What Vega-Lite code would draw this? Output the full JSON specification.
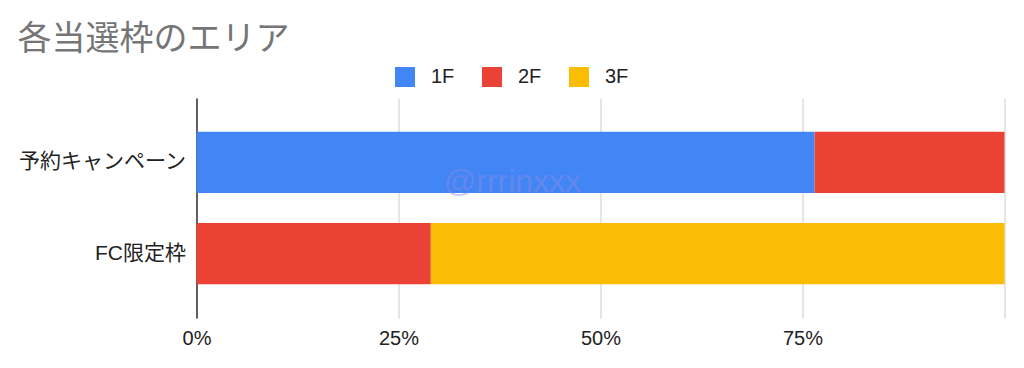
{
  "$schema": "https://vega.github.io/schema/vega-lite/v6.json",
  "autosize": {"type": "none"},
  "width": 808,
  "height": 220,
  "padding": {"left": 196.5, "top": 98, "right": 19.5, "bottom": 50},
  "background": "#ffffff",
  "title": {
    "text": "各当選枠のエリア",
    "anchor": "start",
    "frame": "bounds",
    "font": "Noto Sans CJK JP",
    "fontSize": 34,
    "fontWeight": "normal",
    "color": "#757575",
    "dy": -6
  },
  "config": {
    "view": {"stroke": null},
    "font": "Liberation Sans, Noto Sans CJK JP",
    "text": {"font": "Liberation Sans, Noto Sans CJK JP"}
  },
  "datasets": {
    "shares": [
      {"枠": "予約キャンペーン", "エリア": "1F", "割合": 76.5},
      {"枠": "予約キャンペーン", "エリア": "2F", "割合": 23.5},
      {"枠": "FC限定枠", "エリア": "2F", "割合": 29},
      {"枠": "FC限定枠", "エリア": "3F", "割合": 71}
    ],
    "watermark": [{"label": "@rrrinxxx"}]
  },
  "layer": [
    {
      "data": {"name": "shares"},
      "mark": {"type": "bar"},
      "encoding": {
        "y": {
          "field": "枠",
          "type": "nominal",
          "scale": {"domain": ["予約キャンペーン", "FC限定枠"], "paddingInner": 0.33, "paddingOuter": 0.37},
          "axis": {
            "title": null,
            "ticks": false,
            "tickSize": 0,
            "labelPadding": 11,
            "labelFontSize": 21,
            "labelColor": "#222222",
            "labelFont": "Liberation Sans, Noto Sans CJK JP",
            "domain": true,
            "domainColor": "#333333",
            "domainWidth": 1.5,
            "grid": false
          }
        },
        "x": {
          "field": "割合",
          "type": "quantitative",
          "stack": "normalize",
          "scale": {"domain": [0, 1], "nice": false},
          "axis": {
            "title": null,
            "values": [0, 0.25, 0.5, 0.75, 1],
            "format": "%",
            "labelExpr": "datum.value < 1 ? datum.label : ''",
            "labelFlush": false,
            "ticks": false,
            "tickSize": 0,
            "domain": false,
            "grid": true,
            "gridColor": "#cccccc",
            "gridWidth": 1,
            "labelPadding": 10,
            "labelFontSize": 20,
            "labelColor": "#222222",
            "labelFont": "Liberation Sans"
          }
        },
        "color": {
          "field": "エリア",
          "type": "nominal",
          "scale": {"domain": ["1F", "2F", "3F"], "range": ["#4285f4", "#ea4335", "#fbbc04"]},
          "legend": {
            "title": null,
            "orient": "none",
            "direction": "horizontal",
            "legendX": 198.5,
            "legendY": -31,
            "symbolType": "square",
            "symbolSize": 400,
            "symbolStrokeWidth": 0,
            "symbolOpacity": 1,
            "labelFontSize": 20,
            "labelFont": "Liberation Sans",
            "labelColor": "#222222",
            "labelOffset": 16,
            "columnPadding": 27
          }
        },
        "order": {"field": "エリア", "sort": "ascending"}
      }
    },
    {
      "data": {"name": "watermark"},
      "mark": {
        "type": "text",
        "font": "Liberation Sans",
        "fontSize": 32,
        "color": "#8c8ce6",
        "opacity": 0.45,
        "baseline": "alphabetic",
        "align": "center",
        "dy": 30
      },
      "encoding": {
        "x": {"datum": 0.391, "type": "quantitative"},
        "y": {"datum": "予約キャンペーン", "type": "nominal"},
        "text": {"field": "label"}
      }
    }
  ]
}
